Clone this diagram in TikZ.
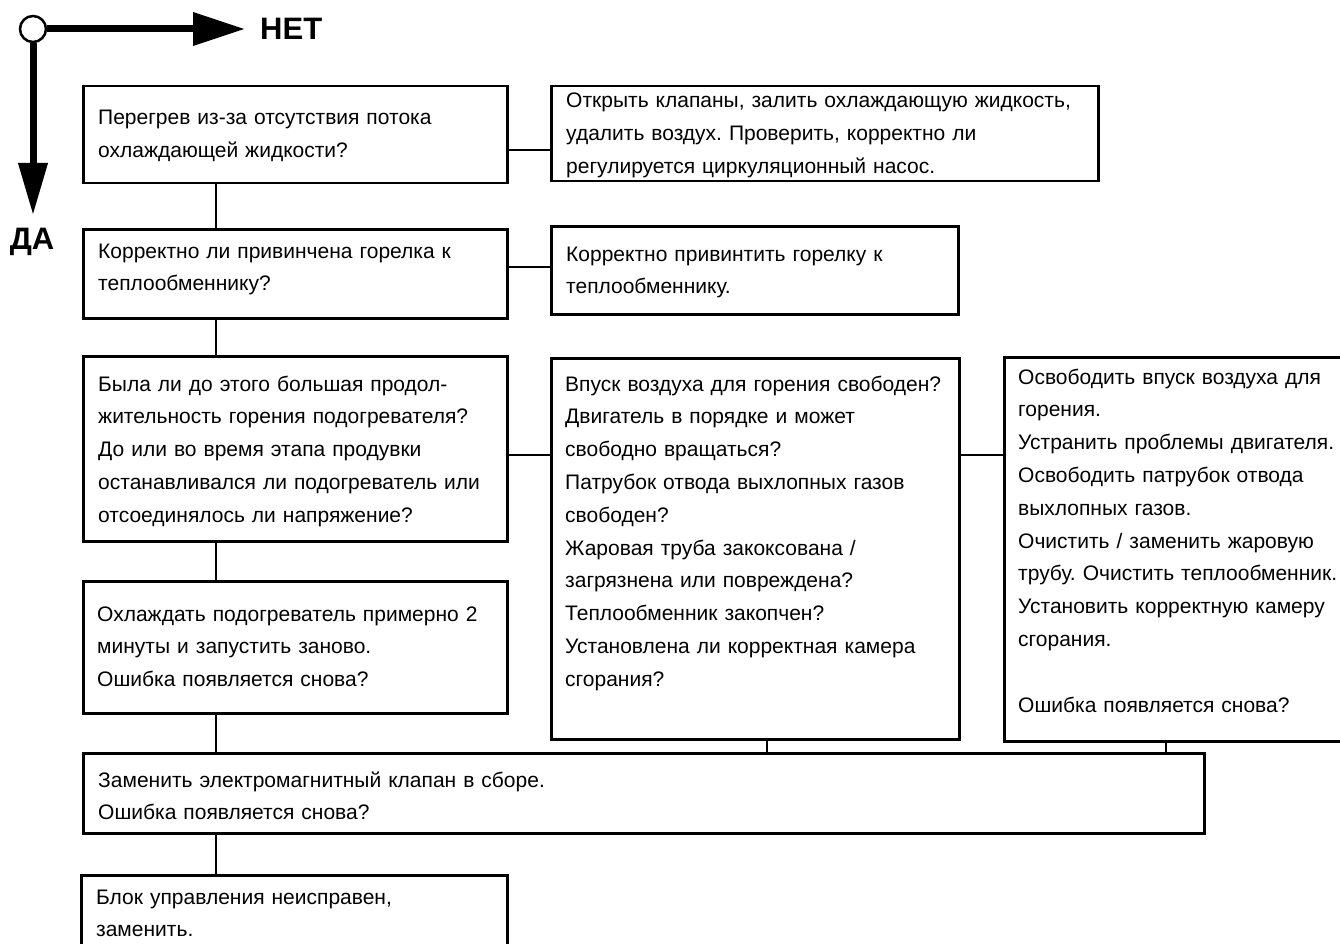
\documentclass[tikz,border=0pt]{standalone}
\usepackage{fontspec}
\setmainfont{Liberation Sans}
\usetikzlibrary{arrows.meta,calc}
\frenchspacing
\begin{document}
\begin{tikzpicture}[x=1pt,y=-1pt,
  box/.style={draw, line width=2.5pt, rectangle, inner sep=0pt, anchor=north west},
  txt/.style={anchor=base west, inner sep=0pt, text width=640pt, align=left, font=\frenchspacing\fontsize{21}{32.8}\selectfont},
  conn/.style={line width=2.5pt},
  big/.style={font=\bfseries\fontsize{31}{31}\selectfont, inner sep=0pt},
  bigarrow/.style={line width=7pt}]
\useasboundingbox (0,0) rectangle (1340,944);
\clip (0,0) rectangle (1340,944);

% boxes
\node[box, minimum width=424pt, minimum height=97pt] (qA) at (82,85) {};
\node[box, minimum width=547pt, minimum height=95pt] (aA) at (550,85) {};
\node[box, minimum width=424pt, minimum height=89pt] (qB) at (82,228) {};
\node[box, minimum width=407pt, minimum height=88pt] (aB) at (550,225) {};
\node[box, minimum width=424pt, minimum height=185pt] (qC) at (82,355) {};
\node[box, minimum width=408pt, minimum height=381pt] (qD) at (550,357) {};
\node[box, minimum width=345pt, minimum height=384pt] (aE) at (1003,356) {};
\node[box, minimum width=424pt, minimum height=132pt] (qF) at (82,580) {};
\node[box, minimum width=1121pt, minimum height=80pt] (qG) at (82,752) {};
\node[box, minimum width=426pt, minimum height=80pt] (aH) at (80,874) {};

% texts
\node[txt] (tA) at ($(qA.north west)+(16,40)$) {Перегрев из-за отсутствия потока\\охлаждающей жидкости?};
\node[txt] (tAa) at ($(aA.north west)+(16,23)$) {Открыть клапаны, залить охлаждающую жидкость,\\удалить воздух. Проверить, корректно ли\\регулируется циркуляционный насос.};
\node[txt] (tB) at ($(qB.north west)+(16,30)$) {Корректно ли привинчена горелка к\\теплообменнику?};
\node[txt] (tBa) at ($(aB.north west)+(16,36)$) {Корректно привинтить горелку к\\теплообменнику.};
\node[txt] (tC) at ($(qC.north west)+(16,36)$) {Была ли до этого большая продол-\\жительность горения подогревателя?\\До или во время этапа продувки\\останавливался ли подогреватель или\\отсоединялось ли напряжение?};
\node[txt] (tD) at ($(qD.north west)+(15,34)$) {Впуск воздуха для горения свободен?\\Двигатель в порядке и может\\свободно вращаться?\\Патрубок отвода выхлопных газов\\свободен?\\Жаровая труба закоксована /\\загрязнена или повреждена?\\Теплообменник закопчен?\\Установлена ли корректная камера\\сгорания?};
\node[txt] (tE) at ($(aE.north west)+(15,28)$) {Освободить впуск воздуха для\\горения.\\Устранить проблемы двигателя.\\Освободить патрубок отвода\\выхлопных газов.\\Очистить / заменить жаровую\\трубу. Очистить теплообменник.\\Установить корректную камеру\\сгорания.\\[32.8pt]Ошибка появляется снова?};
\node[txt] (tF) at ($(qF.north west)+(15,41)$) {Охлаждать подогреватель примерно 2\\минуты и запустить заново.\\Ошибка появляется снова?};
\node[txt] (tG) at ($(qG.north west)+(16,35)$) {Заменить электромагнитный клапан в сборе.\\Ошибка появляется снова?};
\node[txt] (tH) at ($(aH.north west)+(16,30)$) {Блок управления неисправен,\\заменить.};

% connector guides
\coordinate (trunk) at (216,0);
\coordinate (xD) at (767,0);
\coordinate (xE) at (1166,0);
\coordinate (hA) at (0,150);
\coordinate (hB) at (0,267);
\coordinate (hC) at (0,455);

\draw[conn] (qA.south -| trunk) -- (qB.north -| trunk);
\draw[conn] (qB.south -| trunk) -- (qC.north -| trunk);
\draw[conn] (qC.south -| trunk) -- (qF.north -| trunk);
\draw[conn] (qF.south -| trunk) -- (qG.north -| trunk);
\draw[conn] (qG.south -| trunk) -- (aH.north -| trunk);
\draw[conn] (qA.east |- hA) -- (aA.west |- hA);
\draw[conn] (qB.east |- hB) -- (aB.west |- hB);
\draw[conn] (qC.east |- hC) -- (qD.west |- hC);
\draw[conn] (qD.east |- hC) -- (aE.west |- hC);
\draw[conn] (qD.south -| xD) -- (qG.north -| xD);
\draw[conn] (aE.south -| xE) -- (qG.north -| xE);

% legend
\node[circle, draw, fill=white, line width=2.5pt, minimum size=26pt, inner sep=0pt] (start) at (33,29) {};
\coordinate (noTip) at (245,29);
\coordinate (yesTip) at (33,215);
\draw[bigarrow, -{Triangle[length=52pt,width=32pt]}] (start.east) -- (noTip);
\draw[bigarrow, -{Triangle[length=52pt,width=28pt]}] (start.south) -- (yesTip);
\node[big, anchor=west] (no) at (260,29) {НЕТ};
\node[big] (yes) at (32,242) {ДА};
\end{tikzpicture}
\end{document}
